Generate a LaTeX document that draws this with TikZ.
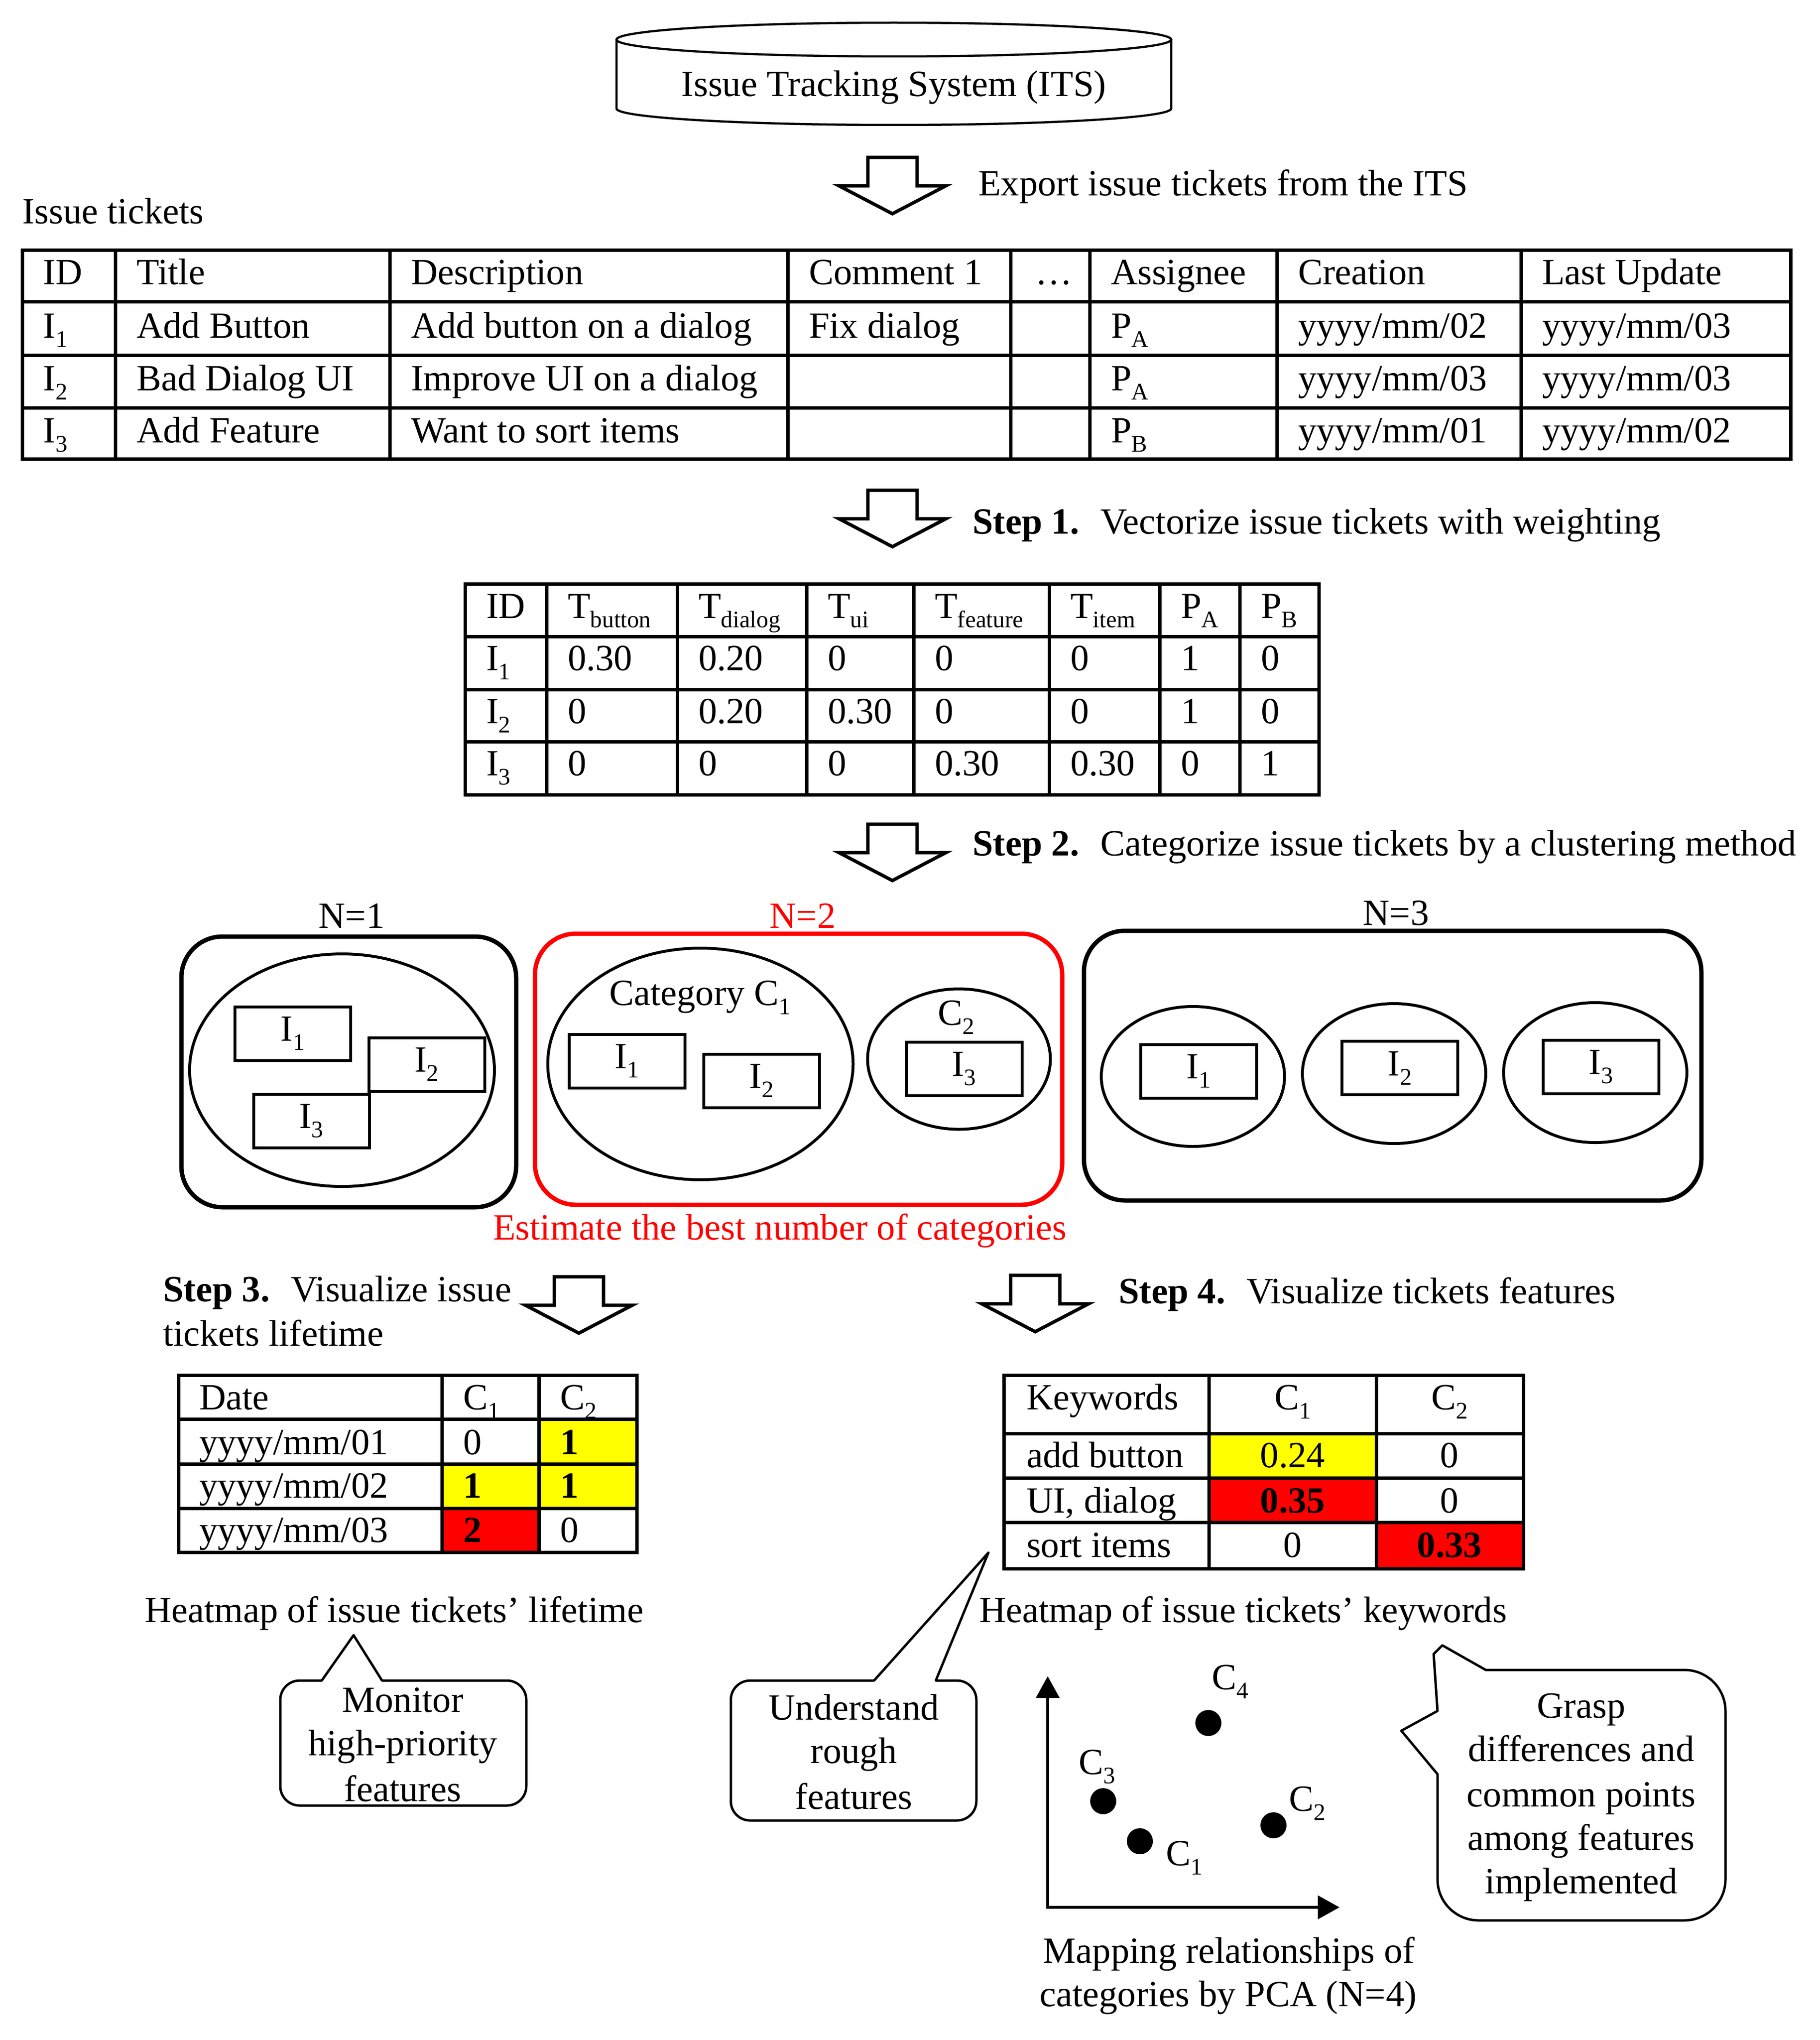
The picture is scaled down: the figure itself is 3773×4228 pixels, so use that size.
\documentclass[tikz,border=0pt]{standalone}
\usepackage{fontspec}
\setmainfont{Liberation Serif}
\usetikzlibrary{arrows.meta,shapes.geometric}
\newcommand\mysub[1]{\raisebox{-0.25em}{\fontsize{14pt}{14pt}\selectfont #1}}
\newcommand\blockarrow[2]{\draw[barrow] ({#1-51},#2) -- ({#1+51},#2) -- ({#1+51},{#2+59}) -- ({#1+111},{#2+59}) -- (#1,{#2+117}) -- ({#1-111},{#2+59}) -- ({#1-51},{#2+59}) -- cycle;}
\definecolor{hlyellow}{RGB}{255,255,0}
\definecolor{hlred}{RGB}{255,0,0}
\begin{document}
\begin{tikzpicture}[x=0.1mm,y=-0.1mm,
  every node/.style={font=\fontsize{21.8pt}{26pt}\selectfont, inner sep=0pt, outer sep=0pt},
  cell/.style={anchor=base west},
  ctr/.style={anchor=base},
  tbl/.style={line width=0.7mm},
  grp/.style={draw, line width=0.9mm, rounded corners=8.5mm},
  clus/.style={draw, ellipse, line width=0.6mm},
  tkt/.style={draw, line width=0.6mm, minimum width=24mm, minimum height=11.1mm},
  barrow/.style={draw, line width=0.7mm, fill=white, line join=miter},
  bubble/.style={line width=0.5mm, line join=round},
  dot/.style={circle, fill=black, minimum size=5.4mm}
]
\useasboundingbox (0,0) rectangle (3773,4228);

% ---------- ITS cylinder ----------
\draw[line width=0.45mm] (1278,82) -- (1278,225) arc[start angle=180, end angle=360, x radius=57.5mm, y radius=3.4mm] -- (2428,82);
\draw[line width=0.45mm] (1853,82) ellipse [x radius=57.5mm, y radius=3.5mm];
\node[ctr] (its) at (1853,200) {Issue Tracking System (ITS)};

% ---------- export arrow ----------
\blockarrow{1850}{326}
\node[cell] (export) at (2028,405) {Export issue tickets from the ITS};
\node[cell] (issuetickets) at (46,463) {Issue tickets};

% ---------- Table 1 ----------
\draw[tbl] (46,518) rectangle (3712,951);
\foreach \yy in {625,736,845} \draw[tbl] (46,\yy) -- (3712,\yy);
\foreach \xx in {239,808,1633,2095,2259,2647,3153} \draw[tbl] (\xx,518) -- (\xx,951);
\node[cell] (ta01) at (90,589) {ID};
\node[cell] (ta02) at (283,589) {Title};
\node[cell] (ta03) at (852,589) {Description};
\node[cell] (ta04) at (1677,589) {Comment 1};
\node[cell] (ta05) at (2146,589) {…};
\node[cell] (ta06) at (2303,589) {Assignee};
\node[cell] (ta07) at (2691,589) {Creation};
\node[cell] (ta08) at (3197,589) {Last Update};
\node[cell] (ta11) at (90,700) {I\mysub{1}};
\node[cell] (ta12) at (283,700) {Add Button};
\node[cell] (ta13) at (852,700) {Add button on a dialog};
\node[cell] (ta14) at (1677,700) {Fix dialog};
\node[cell] (ta16) at (2303,700) {P\mysub{A}};
\node[cell] (ta17) at (2691,700) {yyyy/mm/02};
\node[cell] (ta18) at (3197,700) {yyyy/mm/03};
\node[cell] (ta21) at (90,809) {I\mysub{2}};
\node[cell] (ta22) at (283,809) {Bad Dialog UI};
\node[cell] (ta23) at (852,809) {Improve UI on a dialog};
\node[cell] (ta26) at (2303,809) {P\mysub{A}};
\node[cell] (ta27) at (2691,809) {yyyy/mm/03};
\node[cell] (ta28) at (3197,809) {yyyy/mm/03};
\node[cell] (ta31) at (90,917) {I\mysub{3}};
\node[cell] (ta32) at (283,917) {Add Feature};
\node[cell] (ta33) at (852,917) {Want to sort items};
\node[cell] (ta36) at (2303,917) {P\mysub{B}};
\node[cell] (ta37) at (2691,917) {yyyy/mm/01};
\node[cell] (ta38) at (3197,917) {yyyy/mm/02};

% ---------- Step 1 ----------
\blockarrow{1850}{1016}
\node[cell] (step1) at (2016,1106) {\textbf{Step 1.}\hspace{0.57em}Vectorize issue tickets with weighting};

% ---------- Table 2 ----------
\draw[tbl] (964,1210) rectangle (2734,1647);
\foreach \yy in {1319,1429,1537} \draw[tbl] (964,\yy) -- (2734,\yy);
\foreach \xx in {1133,1404,1672,1894,2175,2404,2570} \draw[tbl] (\xx,1210) -- (\xx,1647);
\node[cell] (tb01) at (1008,1281) {ID};
\node[cell] (tb02) at (1177,1281) {T\mysub{button}};
\node[cell] (tb03) at (1448,1281) {T\mysub{dialog}};
\node[cell] (tb04) at (1716,1281) {T\mysub{ui}};
\node[cell] (tb05) at (1938,1281) {T\mysub{feature}};
\node[cell] (tb06) at (2219,1281) {T\mysub{item}};
\node[cell] (tb07) at (2448,1281) {P\mysub{A}};
\node[cell] (tb08) at (2614,1281) {P\mysub{B}};
\node[cell] (tb11) at (1008,1389) {I\mysub{1}};
\node[cell] (tb12) at (1177,1389) {0.30};
\node[cell] (tb13) at (1448,1389) {0.20};
\node[cell] (tb14) at (1716,1389) {0};
\node[cell] (tb15) at (1938,1389) {0};
\node[cell] (tb16) at (2219,1389) {0};
\node[cell] (tb17) at (2448,1389) {1};
\node[cell] (tb18) at (2614,1389) {0};
\node[cell] (tb21) at (1008,1499) {I\mysub{2}};
\node[cell] (tb22) at (1177,1499) {0};
\node[cell] (tb23) at (1448,1499) {0.20};
\node[cell] (tb24) at (1716,1499) {0.30};
\node[cell] (tb25) at (1938,1499) {0};
\node[cell] (tb26) at (2219,1499) {0};
\node[cell] (tb27) at (2448,1499) {1};
\node[cell] (tb28) at (2614,1499) {0};
\node[cell] (tb31) at (1008,1607) {I\mysub{3}};
\node[cell] (tb32) at (1177,1607) {0};
\node[cell] (tb33) at (1448,1607) {0};
\node[cell] (tb34) at (1716,1607) {0};
\node[cell] (tb35) at (1938,1607) {0.30};
\node[cell] (tb36) at (2219,1607) {0.30};
\node[cell] (tb37) at (2448,1607) {0};
\node[cell] (tb38) at (2614,1607) {1};

% ---------- Step 2 ----------
\blockarrow{1850}{1708}
\node[cell] (step2) at (2016,1773) {\textbf{Step 2.}\hspace{0.57em}Categorize issue tickets by a clustering method};

% N=1
\node[ctr] (lab1) at (729,1923) {N=1};
\node[grp, minimum width=69.4mm, minimum height=56.1mm] (g1) at (723,2221.5) {};
\node[clus, minimum width=63.2mm, minimum height=48.2mm] (e1) at (709,2218) {};
\node[tkt] (g1i1) at (607,2142) {I\mysub{1}};
\node[tkt] (g1i2) at (884.5,2206) {I\mysub{2}};
\node[tkt] (g1i3) at (645.5,2323) {I\mysub{3}};

% N=2
\node[ctr, text=hlred] (lab2) at (1664,1923) {N=2};
\node[grp, draw=hlred, minimum width=109.3mm, minimum height=56.2mm] (g2) at (1655.5,2216) {};
\node[clus, minimum width=63.3mm, minimum height=48.0mm] (c1) at (1452,2205) {};
\node[clus, minimum width=37.9mm, minimum height=29.1mm] (c2) at (1988,2195) {};
\node[ctr] (catc1) at (1451,2083) {Category C\mysub{1}};
\node[ctr] (catc2) at (1982,2124) {C\mysub{2}};
\node[tkt] (g2i1) at (1300,2199) {I\mysub{1}};
\node[tkt] (g2i2) at (1579,2240) {I\mysub{2}};
\node[tkt] (g2i3) at (1998.5,2215.5) {I\mysub{3}};
\node[cell, text=hlred] (estimate) at (1022,2569) {Estimate the best number of categories};

% N=3
\node[ctr] (lab3) at (2894,1917) {N=3};
\node[grp, minimum width=128mm, minimum height=55.9mm] (g3) at (2887,2208.5) {};
\node[clus, minimum width=38mm, minimum height=29mm] (e31) at (2473,2231) {};
\node[clus, minimum width=38mm, minimum height=29mm] (e32) at (2890,2225) {};
\node[clus, minimum width=38mm, minimum height=29mm] (e33) at (3307,2223) {};
\node[tkt] (g3i1) at (2485,2220) {I\mysub{1}};
\node[tkt] (g3i2) at (2902,2213.5) {I\mysub{2}};
\node[tkt] (g3i3) at (3319,2211.5) {I\mysub{3}};

% ---------- Step 3 ----------
\node[cell] (step3a) at (338,2697) {\textbf{Step 3.}\hspace{0.57em}Visualize issue};
\node[cell] (step3b) at (338,2789) {tickets lifetime};
\blockarrow{1200}{2646}

\fill[hlyellow] (1117,2941) rectangle (1320,3034);
\fill[hlyellow] (916,3034) rectangle (1320,3126);
\fill[hlred] (916,3126) rectangle (1117,3217);
\draw[tbl] (370,2850) rectangle (1320,3217);
\foreach \yy in {2941,3034,3126} \draw[tbl] (370,\yy) -- (1320,\yy);
\foreach \xx in {916,1117} \draw[tbl] (\xx,2850) -- (\xx,3217);
\node[cell] (td01) at (413,2921) {Date};
\node[cell] (td02) at (960,2921) {C\mysub{1}};
\node[cell] (td03) at (1161,2921) {C\mysub{2}};
\node[cell] (td11) at (413,3014) {yyyy/mm/01};
\node[cell] (td12) at (960,3014) {0};
\node[cell] (td13) at (1161,3014) {\textbf{1}};
\node[cell] (td21) at (413,3104) {yyyy/mm/02};
\node[cell] (td22) at (960,3104) {\textbf{1}};
\node[cell] (td23) at (1161,3104) {\textbf{1}};
\node[cell] (td31) at (413,3196) {yyyy/mm/03};
\node[cell] (td32) at (960,3196) {\textbf{2}};
\node[cell] (td33) at (1161,3196) {0};
\node[ctr] (heat1) at (817,3362) {Heatmap of issue tickets’ lifetime};

% Monitor bubble
\draw[bubble] (733,3389) -- (792,3483) -- (1051,3483) arc[start angle=90,end angle=0,radius=4mm] -- (1091,3702) arc[start angle=0,end angle=-90,radius=4mm] -- (621,3742) arc[start angle=270,end angle=180,radius=4mm] -- (581,3523) arc[start angle=180,end angle=90,radius=4mm] -- (667,3483) -- cycle;
\node[ctr] (mon1) at (835,3548) {Monitor};
\node[ctr] (mon2) at (835,3638) {high-priority};
\node[ctr] (mon3) at (835,3733) {features};

% ---------- Step 4 ----------
\blockarrow{2146}{2643}
\node[cell] (step4) at (2319,2701) {\textbf{Step 4.}\hspace{0.57em}Visualize tickets features};

\fill[hlyellow] (2506,2971) rectangle (2853,3063);
\fill[hlred] (2506,3063) rectangle (2853,3155);
\fill[hlred] (2853,3155) rectangle (3158,3251);
\draw[tbl] (2081,2850) rectangle (3158,3251);
\foreach \yy in {2971,3063,3155} \draw[tbl] (2081,\yy) -- (3158,\yy);
\foreach \xx in {2506,2853} \draw[tbl] (\xx,2850) -- (\xx,3251);
\node[cell] (tk01) at (2128,2921) {Keywords};
\node[ctr] (tk02) at (2680,2921) {C\mysub{1}};
\node[ctr] (tk03) at (3005,2921) {C\mysub{2}};
\node[cell] (tk11) at (2128,3041) {add button};
\node[ctr] (tk12) at (2680,3041) {0.24};
\node[ctr] (tk13) at (3005,3041) {0};
\node[cell] (tk21) at (2128,3135) {UI, dialog};
\node[ctr] (tk22) at (2680,3135) {\textbf{0.35}};
\node[ctr] (tk23) at (3005,3135) {0};
\node[cell] (tk31) at (2128,3227) {sort items};
\node[ctr] (tk32) at (2680,3227) {0};
\node[ctr] (tk33) at (3005,3227) {\textbf{0.33}};
\node[ctr] (heat2) at (2577,3362) {Heatmap of issue tickets’ keywords};

% Understand bubble
\draw[bubble] (2049,3218) -- (1940,3483) -- (1984,3483) arc[start angle=90,end angle=0,radius=4mm] -- (2024,3733) arc[start angle=0,end angle=-90,radius=4mm] -- (1555,3773) arc[start angle=270,end angle=180,radius=4mm] -- (1515,3523) arc[start angle=180,end angle=90,radius=4mm] -- (1812,3483) -- cycle;
\node[ctr] (und1) at (1770,3564) {Understand};
\node[ctr] (und2) at (1770,3654) {rough};
\node[ctr] (und3) at (1770,3749) {features};

% PCA plot
\coordinate (ytop) at (2172,3474);
\coordinate (orig) at (2172,3953);
\coordinate (xend) at (2777,3953);
\draw[line width=0.6mm, {Triangle[length=4.5mm,width=4.8mm]}-{Triangle[length=4.5mm,width=4.8mm]}] (ytop) -- (orig) -- (xend);
\node[dot] (p4) at (2505,3571) {};
\node[dot] (p3) at (2287,3733) {};
\node[dot] (p1) at (2363,3816) {};
\node[dot] (p2) at (2640,3783) {};
\node[cell] (l4) at (2512,3501) {C\mysub{4}};
\node[cell] (l3) at (2236,3677) {C\mysub{3}};
\node[cell] (l1) at (2417,3866) {C\mysub{1}};
\node[cell] (l2) at (2672,3753) {C\mysub{2}};
\node[ctr] (map1) at (2548,4068) {Mapping relationships of};
\node[ctr] (map2) at (2546,4158) {categories by PCA (N=4)};

% Grasp bubble
\draw[bubble] (3080,3461) -- (3492,3461) arc[start angle=90,end angle=0,radius=8.5mm] -- (3577,3895) arc[start angle=0,end angle=-90,radius=8.5mm] -- (3065,3980) arc[start angle=270,end angle=180,radius=8.5mm] -- (2980,3677) -- (2905,3587) -- (2980,3546) -- (2972,3428) -- (2990,3410) -- cycle;
\node[ctr] (gr1) at (3278,3560) {Grasp};
\node[ctr] (gr2) at (3278,3650) {differences and};
\node[ctr] (gr3) at (3278,3744) {common points};
\node[ctr] (gr4) at (3278,3834) {among features};
\node[ctr] (gr5) at (3278,3924) {implemented};
\end{tikzpicture}
\end{document}
